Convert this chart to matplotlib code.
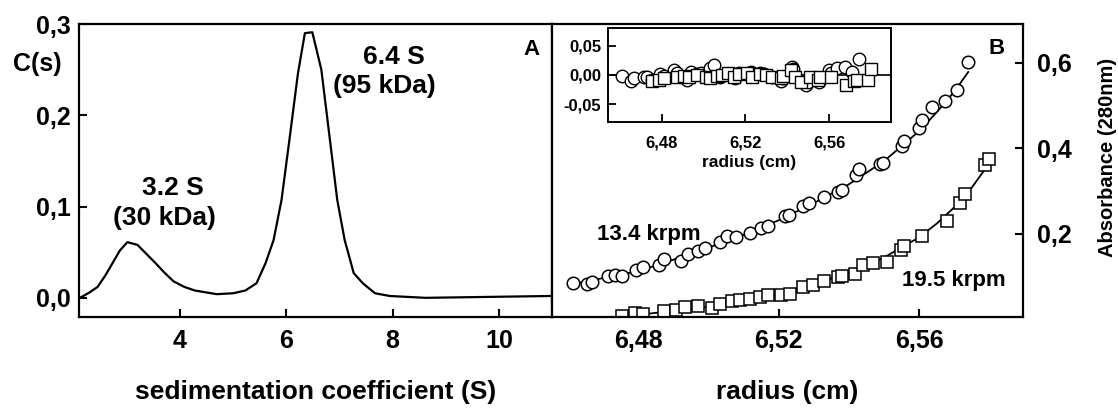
import numpy as np
import matplotlib
matplotlib.use('Agg')
import matplotlib.pyplot as plt

plt.rcParams['font.family'] = ['Liberation Sans', 'DejaVu Sans']
plt.rcParams['font.weight'] = 'bold'

# panel A - c(s) distribution
s_coef = [2.1, 2.15, 2.3, 2.45, 2.6, 2.73, 2.87, 3.01, 3.2, 3.37, 3.54, 3.7, 3.88, 4.08, 4.28, 4.69, 5.0,
          5.23, 5.44, 5.61, 5.76, 5.91, 6.05, 6.22, 6.35, 6.49, 6.66, 6.83, 6.96, 7.1, 7.27, 7.44, 7.67,
          7.95, 8.62, 10.96]
c_s = [0.0, 0.001, 0.006, 0.012, 0.025, 0.038, 0.052, 0.061, 0.058, 0.048, 0.038, 0.028, 0.018, 0.012,
       0.008, 0.004, 0.005, 0.008, 0.016, 0.038, 0.063, 0.107, 0.169, 0.246, 0.29, 0.291, 0.25, 0.169,
       0.107, 0.063, 0.027, 0.016, 0.005, 0.002, 0.0, 0.002]
a_xticks = [4, 6, 8, 10]
a_yticks = [0.0, 0.1, 0.2, 0.3]
a_ylabels = ['0,0', '0,1', '0,2', '0,3']

# panel B - sedimentation equilibrium
r_134 = [6.4612, 6.4653, 6.4667, 6.4714, 6.4732, 6.4753, 6.4792, 6.4812, 6.4859, 6.4873, 6.4922, 6.4940,
         6.4968, 6.4989, 6.5031, 6.5051, 6.5079, 6.5119, 6.5150, 6.5169, 6.5218, 6.5228, 6.5270, 6.5287,
         6.5329, 6.5368, 6.5379, 6.5420, 6.5429, 6.5488, 6.5498, 6.5550, 6.5557, 6.5599, 6.5607, 6.5636,
         6.5675, 6.5709, 6.5740]
abs_134 = [0.0854, 0.0838, 0.0869, 0.1025, 0.1049, 0.1010, 0.1150, 0.1228, 0.1283, 0.1415, 0.1361, 0.1540,
           0.1595, 0.1673, 0.1805, 0.1945, 0.1930, 0.2023, 0.2140, 0.2179, 0.2413, 0.2452, 0.2647, 0.2710,
           0.2865, 0.2975, 0.3021, 0.3365, 0.3505, 0.3622, 0.3661, 0.4051, 0.4168, 0.4480, 0.4659, 0.4971,
           0.5103, 0.5353, 0.6023]
res_134 = [-0.002, -0.010, -0.005, -0.003, -0.004, -0.008, 0.002, -0.002, 0.008, 0.003, -0.008, 0.006,
           0.002, 0.004, 0.012, 0.017, -0.003, 0.002, -0.005, 0.004, 0.003, 0.006, 0.004, 0.002,
           -0.004, -0.010, -0.006, 0.014, 0.010, -0.018, -0.012, -0.012, -0.006, 0.008, 0.004, 0.012,
           0.014, 0.005, 0.028]
r_195 = [6.4753, 6.4789, 6.4813, 6.4872, 6.4906, 6.4932, 6.4968, 6.5010, 6.5031, 6.5065, 6.5088, 6.5117,
         6.5145, 6.5169, 6.5207, 6.5233, 6.5270, 6.5296, 6.5329, 6.5368, 6.5379, 6.5418, 6.5439, 6.5467,
         6.5508, 6.5547, 6.5557, 6.5607, 6.5678, 6.5716, 6.5732, 6.5787, 6.5799]
abs_195 = [0.009, 0.0152, 0.0136, 0.0191, 0.0230, 0.0292, 0.0324, 0.0269, 0.0370, 0.0425, 0.0448, 0.0480,
           0.0519, 0.0581, 0.0581, 0.0604, 0.0760, 0.0815, 0.0893, 0.0994, 0.1010, 0.1072, 0.1283, 0.1322,
           0.1353, 0.1618, 0.1712, 0.1961, 0.2296, 0.2725, 0.2943, 0.3598, 0.3739]
res_195 = [-0.010, -0.008, -0.006, -0.004, -0.002, -0.003, 0.0, -0.004, -0.006, -0.002, 0.0, 0.003,
           -0.004, 0.002, 0.004, -0.003, 0.002, 0.0, -0.004, -0.006, -0.002, 0.008, -0.004, -0.012,
           -0.004, -0.008, -0.004, -0.004, -0.018, -0.010, -0.008, -0.008, 0.010]
fit_r_134 = [6.4612, 6.47, 6.48, 6.49, 6.50, 6.51, 6.52, 6.53, 6.54, 6.55, 6.56, 6.565, 6.57, 6.574]
fit_abs_134 = [0.083, 0.097, 0.113, 0.140, 0.168, 0.198, 0.232, 0.272, 0.316, 0.370, 0.440, 0.484, 0.532, 0.578]
fit_r_195 = [6.475, 6.49, 6.50, 6.51, 6.52, 6.53, 6.54, 6.55, 6.56, 6.565, 6.57, 6.575, 6.58]
fit_abs_195 = [0.007, 0.020, 0.030, 0.044, 0.060, 0.082, 0.110, 0.145, 0.192, 0.224, 0.262, 0.308, 0.365]
b_xticks = [6.48, 6.52, 6.56]
b_xlabels = ['6,48', '6,52', '6,56']
b_yticks = [0.2, 0.4, 0.6]
b_ylabels = ['0,2', '0,4', '0,6']
in_yticks = [-0.05, 0.0, 0.05]
in_ylabels = ['-0,05', '0,00', '0,05']

fig = plt.figure(figsize=(11.18, 4.12), dpi=100)
axA = fig.add_axes([0.0707, 0.2306, 0.4230, 0.7111])
axB = fig.add_axes([0.4937, 0.2306, 0.4213, 0.7111])
axI = fig.add_axes([0.5438, 0.7039, 0.2532, 0.2282])

# ---- panel A
axA.plot(s_coef, c_s, color='k', linewidth=1.6)
axA.set_xlim(2.1, 11.0)
axA.set_ylim(-0.021, 0.3)
axA.set_xticks(a_xticks)
axA.set_xticklabels([str(v) for v in a_xticks])
axA.set_yticks(a_yticks)
axA.set_yticklabels(a_ylabels)
axA.tick_params(direction='in', length=6, width=1.5, labelsize=18, pad=6)
axA.tick_params(axis='x', pad=9)
axA.set_xlabel('sedimentation coefficient (S)', fontsize=19, fontweight='bold', labelpad=19)
fig.text(0.033, 0.845, 'C(s)', fontsize=18, fontweight='bold', ha='center', va='center')
axA.text(3.87, 0.120, '3.2 S', fontsize=19, fontweight='bold', ha='center', va='center')
axA.text(3.70, 0.088, '(30 kDa)', fontsize=19, fontweight='bold', ha='center', va='center')
axA.text(8.02, 0.264, '6.4 S', fontsize=19, fontweight='bold', ha='center', va='center')
axA.text(7.85, 0.232, '(95 kDa)', fontsize=19, fontweight='bold', ha='center', va='center')
axA.text(10.62, 0.272, 'A', fontsize=16, fontweight='bold', ha='center', va='center')
for sp in axA.spines.values():
    sp.set_linewidth(1.6)

# ---- panel B
axB.plot(fit_r_134, fit_abs_134, color='k', linewidth=1.3, zorder=1)
axB.plot(fit_r_195, fit_abs_195, color='k', linewidth=1.3, zorder=1)
axB.plot(r_134, abs_134, 'o', ms=9, mfc='white', mec='k', mew=1.1, zorder=2)
axB.plot(r_195, abs_195, 's', ms=8, mfc='white', mec='k', mew=1.1, zorder=2)
axB.set_xlim(6.4553, 6.5896)
axB.set_ylim(0.006, 0.69)
axB.set_xticks(b_xticks)
axB.set_xticklabels(b_xlabels)
axB.yaxis.tick_right()
axB.set_yticks(b_yticks)
axB.set_yticklabels(b_ylabels)
axB.tick_params(direction='in', length=6, width=1.5, labelsize=18, pad=10)
axB.tick_params(axis='x', pad=9)
axB.set_xlabel('radius (cm)', fontsize=19, fontweight='bold', labelpad=19)
fig.text(0.9905, 0.619, 'Absorbance (280nm)', fontsize=14.5, fontweight='bold',
         rotation=90, ha='center', va='center')
axB.text(6.483, 0.198, '13.4 krpm', fontsize=16, fontweight='bold', ha='center', va='center')
axB.text(6.570, 0.092, '19.5 krpm', fontsize=16, fontweight='bold', ha='center', va='center')
axB.text(6.582, 0.632, 'B', fontsize=16, fontweight='bold', ha='center', va='center')
for sp in axB.spines.values():
    sp.set_linewidth(1.6)

# ---- inset residuals
axI.axhline(0, color='k', linewidth=1.2, zorder=1)
axI.plot(r_134, res_134, 'o', ms=9, mfc='white', mec='k', mew=1.0, zorder=2)
axI.plot(r_195, res_195, 's', ms=8, mfc='white', mec='k', mew=1.0, zorder=3)
axI.set_xlim(6.4544, 6.5895)
axI.set_ylim(-0.081, 0.081)
axI.set_xticks(b_xticks)
axI.set_xticklabels(b_xlabels)
axI.set_yticks(in_yticks)
axI.set_yticklabels(in_ylabels)
axI.tick_params(direction='in', length=6, width=1.3, labelsize=12, pad=5)
axI.tick_params(axis='x', pad=10)
axI.set_xlabel('radius (cm)', fontsize=12.5, fontweight='bold', labelpad=3)
for sp in axI.spines.values():
    sp.set_linewidth(1.4)

fig.savefig('out.png', dpi=100)
